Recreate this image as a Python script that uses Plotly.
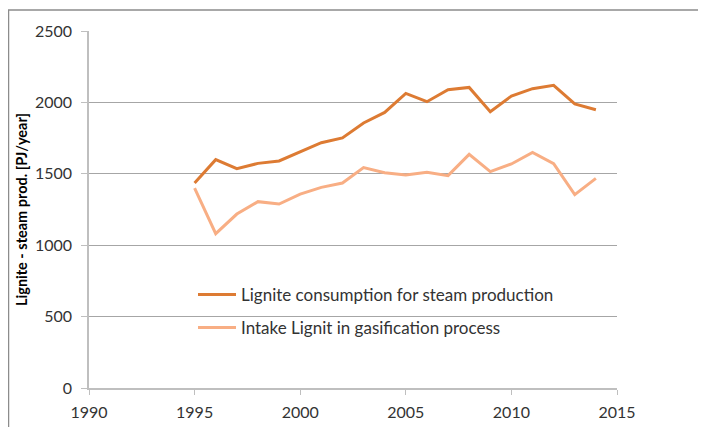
import plotly.graph_objects as go

years = list(range(1995, 2015))
steam = [1435, 1599, 1536, 1573, 1590, 1653, 1718, 1751, 1856, 1930,
         2063, 2005, 2089, 2105, 1935, 2045, 2096, 2120, 1989, 1949]
gasif = [1400, 1081, 1218, 1305, 1288, 1358, 1405, 1435, 1543, 1508,
         1492, 1510, 1487, 1636, 1515, 1569, 1650, 1571, 1354, 1468]
name_steam = "Lignite consumption for steam production"
name_gasif = "Intake Lignit in gasification process"
x_ticks = [1990, 1995, 2000, 2005, 2010, 2015]
y_ticks = [0, 500, 1000, 1500, 2000, 2500]

FONT = "Lato"
fig = go.Figure()
fig.add_trace(go.Scatter(x=years, y=steam, mode="lines", name=name_steam, showlegend=True,
                         line=dict(color="#DD7B33", width=3), legend="legend"))
fig.add_trace(go.Scatter(x=years, y=gasif, mode="lines", name=name_gasif, showlegend=True,
                         line=dict(color="#F8AE84", width=3), legend="legend2"))

# page body has an 8px margin: work in screenshot pixels, convert to figure pixels
OFF = 8
W, H = 706 - OFF, 427 - OFF
L = 89 - OFF
T = 31 - OFF
R = W - (617 - OFF)
B = H - (388 - OFF)
pw, ph = W - L - R, H - T - B

def px(xs):
    return (xs - OFF - L) / pw

def py(ys):
    return (H - B - (ys - OFF)) / ph

legend_common = dict(font=dict(family=FONT, size=17, color="#333333"),
                     bgcolor="rgba(0,0,0,0)", xanchor="left", yanchor="middle",
                     itemwidth=38, visible=True)

fig.update_layout(
    width=W, height=H,
    margin=dict(l=L, r=R, t=T, b=B, autoexpand=False),
    paper_bgcolor="white", plot_bgcolor="white",
    showlegend=True,
    font=dict(family=FONT, size=16, color="#333333"),
    legend=dict(x=px(193), y=py(295), **legend_common),
    legend2=dict(x=px(193), y=py(328), **legend_common),
    xaxis=dict(range=[1990, 2015], tickvals=x_ticks, ticks="outside", ticklen=5,
               tickcolor="#BFBFBF", showline=True, linecolor="#BFBFBF", linewidth=1.5,
               showgrid=False, zeroline=False, ticklabelstandoff=4, automargin=False,
               tickfont=dict(family=FONT, size=16, color="#333333")),
    yaxis=dict(range=[0, 2500], tickvals=y_ticks, ticks="outside", ticklen=6,
               tickcolor="#BFBFBF", showline=True, linecolor="#BFBFBF", linewidth=1.5,
               showgrid=True, gridcolor="#A6A6A6", gridwidth=1, zeroline=False,
               ticklabelstandoff=6, automargin=False,
               tickfont=dict(family=FONT, size=16, color="#333333"),
               title=dict(text="<b>Lignite - steam prod. [PJ/year]</b>", standoff=4,
                          font=dict(family=FONT, size=14.5, color="#000000"))),
    shapes=[dict(type="rect", xref="paper", yref="paper",
                 x0=px(8.5), x1=px(720), y0=py(10), y1=py(440),
                 line=dict(color="#8C8C8C", width=1.5), layer="below")],
)

fig.write_html("out.html")
